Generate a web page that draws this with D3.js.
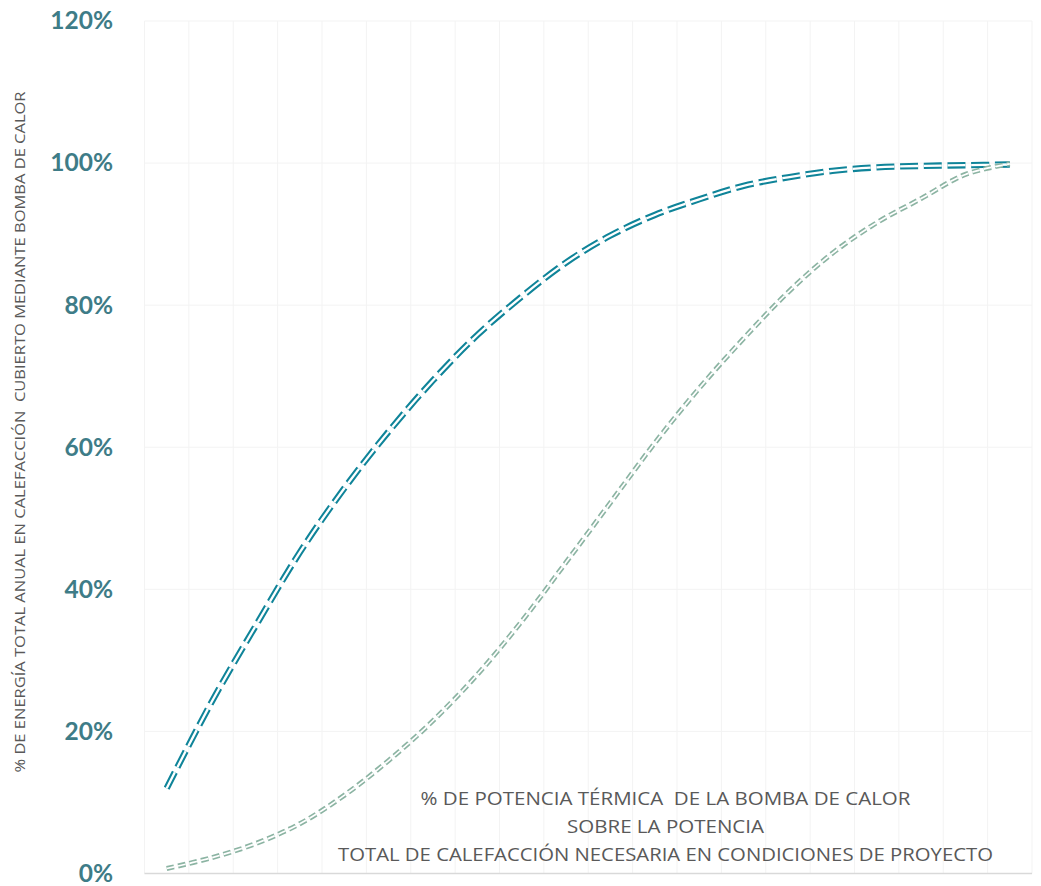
<!DOCTYPE html>
<html>
<head>
<meta charset="utf-8">
<script src="https://cdn.jsdelivr.net/npm/d3@7"></script>
<style>
  html, body { margin: 0; padding: 0; background: #ffffff; }
  svg { display: block; }
</style>
</head>
<body>
<svg id="chart" width="1041" height="886"></svg>
<script>
// ---- data ----
const categories = ["5%","10%","15%","20%","25%","30%","35%","40%","45%","50%",
                    "55%","60%","65%","70%","75%","80%","85%","90%","95%","100%"];
const energyCovered = [12.0, 24.0, 34.8, 45.2, 54.2, 62.2, 69.4, 75.8, 81.2, 86.0,
                       89.8, 92.7, 94.9, 96.8, 98.0, 98.9, 99.4, 99.6, 99.7, 99.8];
const secondSeries  = [0.7, 2.2, 4.2, 7.0, 11.0, 15.9, 21.5, 28.0, 35.5, 43.8,
                       52.2, 60.6, 68.3, 75.3, 81.8, 87.3, 91.6, 95.0, 98.4, 99.9];
const yTicks = [0, 20, 40, 60, 80, 100, 120];
const yTitle = "% DE ENERGÍA TOTAL ANUAL EN CALEFACCIÓN  CUBIERTO MEDIANTE BOMBA DE CALOR";
const xTitleLines = ["% DE POTENCIA TÉRMICA  DE LA BOMBA DE CALOR",
                     "SOBRE LA POTENCIA",
                     "TOTAL DE CALEFACCIÓN NECESARIA EN CONDICIONES DE PROYECTO"];

// ---- layout ----
const svg = d3.select("#chart");
const plotLeft = 144.5, plotRight = 1032, plotTop = 21, plotBottom = 873.5;

const x = d3.scaleBand().domain(categories).range([plotLeft, plotRight]).paddingInner(0).paddingOuter(0);
const y = d3.scaleLinear().domain([0, 120]).range([plotBottom, plotTop]);
const cx = c => x(c) + x.bandwidth() / 2;

// gridlines
const grid = svg.append("g");
const boundaries = categories.map(c => x(c)).concat([plotRight]);
grid.selectAll("line.v").data(boundaries).enter().append("line")
  .attr("x1", d => d).attr("x2", d => d)
  .attr("y1", plotTop).attr("y2", plotBottom)
  .attr("stroke", "#f3f3f3").attr("stroke-width", 1);
grid.selectAll("line.h").data(yTicks.filter(t => t > 0)).enter().append("line")
  .attr("x1", plotLeft).attr("x2", plotRight)
  .attr("y1", d => y(d)).attr("y2", d => y(d))
  .attr("stroke", "#f3f3f3").attr("stroke-width", 1);
// category axis line
svg.append("line")
  .attr("x1", plotLeft).attr("x2", plotRight)
  .attr("y1", y(0)).attr("y2", y(0))
  .attr("stroke", "#d9d9d9").attr("stroke-width", 1.3);

// y axis labels via d3 axis
const yAxis = d3.axisLeft(y).tickValues(yTicks).tickSize(0).tickPadding(0)
  .tickFormat(d => d + "%");
const gy = svg.append("g").attr("transform", "translate(113,0)").call(yAxis);
gy.select(".domain").remove();
gy.selectAll("text")
  .attr("font-family", "Lato, 'Open Sans', sans-serif")
  .attr("font-weight", "bold")
  .attr("font-size", "24.5px")
  .attr("fill", "#3e7c87")
  .attr("dy", "0.32em");

// lines
const line = d3.line().x((d, i) => cx(categories[i])).y(d => y(d)).curve(d3.curveCatmullRom.alpha(0.5));

function doubleLine(data, color, outerW, innerW, dash) {
  const g = svg.append("g");
  g.append("path").attr("d", line(data)).attr("fill", "none")
    .attr("stroke", color).attr("stroke-width", outerW)
    .attr("stroke-dasharray", dash).attr("stroke-linecap", "butt");
  g.append("path").attr("d", line(data)).attr("fill", "none")
    .attr("stroke", "#ffffff").attr("stroke-width", innerW)
    .attr("stroke-dasharray", dash).attr("stroke-linecap", "butt");
}
doubleLine(energyCovered, "#0f8499", 6.4, 2.3, "18 5.7");
doubleLine(secondSeries, "#8cb4a3", 5.0, 1.7, "7.7 4");

// y axis title
svg.append("text")
  .attr("transform", "translate(25,432) rotate(-90)")
  .attr("text-anchor", "middle")
  .attr("font-family", "'Open Sans', Lato, sans-serif")
  .attr("font-size", "14px")
  .attr("fill", "#595959")
  .attr("textLength", 681)
  .attr("lengthAdjust", "spacingAndGlyphs")
  .style("white-space", "pre")
  .text(yTitle);

// x axis title (inside plot)
const xtLens = [490, 197, 655];
const xtBase = [805, 833, 861];
svg.selectAll("text.xt").data(xTitleLines).enter().append("text")
  .attr("x", 665.5).attr("y", (d, i) => xtBase[i])
  .attr("text-anchor", "middle")
  .attr("font-family", "'Open Sans', Lato, sans-serif")
  .attr("font-size", "19px")
  .attr("fill", "#595959")
  .attr("textLength", (d, i) => xtLens[i])
  .attr("lengthAdjust", "spacingAndGlyphs")
  .style("white-space", "pre")
  .text(d => d);
</script>
</body>
</html>
